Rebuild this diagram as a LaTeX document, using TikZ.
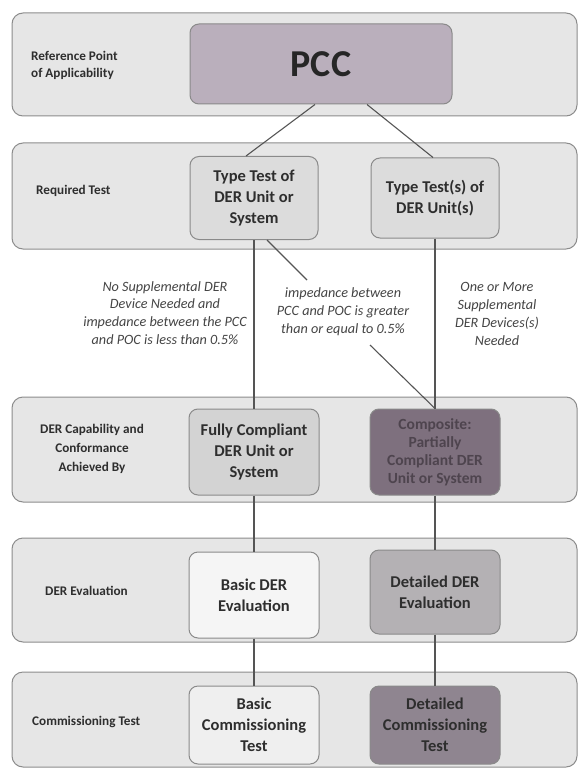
\documentclass[tikz,border=0pt]{standalone}
\usepackage{fontspec}
\setmainfont{Carlito}
\definecolor{bandfill}{HTML}{E6E6E6}
\definecolor{bandline}{HTML}{8C8C8C}
\definecolor{boxline}{HTML}{8A8A8A}
\definecolor{pccfill}{HTML}{BAAFBC}
\definecolor{ttfill}{HTML}{DCDCDC}
\definecolor{fcfill}{HTML}{D3D3D3}
\definecolor{compfill}{HTML}{7E707E}
\definecolor{comptext}{HTML}{4E444E}
\definecolor{befill}{HTML}{F5F5F5}
\definecolor{defill}{HTML}{B4B1B4}
\definecolor{bcfill}{HTML}{EFEFEF}
\definecolor{dcfill}{HTML}{8F8590}
\definecolor{txt}{HTML}{2E2E2E}
\definecolor{condtxt}{HTML}{444444}
\definecolor{lineclr}{HTML}{555555}
\begin{document}
\begin{tikzpicture}[x=1pt,y=-1pt,
  band/.style={draw=bandline, fill=bandfill, rounded corners=11pt, line width=1pt},
  box/.style={draw=boxline, rounded corners=9pt, line width=1pt, align=center,
    font=\bfseries\fontsize{16.5}{21}\selectfont, text=txt, inner sep=2pt},
  lbl/.style={font=\bfseries\fontsize{13.2}{17}\selectfont, text=txt, inner sep=0pt},
  cond/.style={font=\itshape\fontsize{14.2}{17.8}\selectfont, align=center, text=condtxt, inner sep=0pt},
  conn/.style={draw=lineclr, line width=1.1pt}]
\useasboundingbox (0,0) rectangle (582,770);
% bands
\path[band] (12,13) rectangle (577,116);
\path[band] (12,143) rectangle (577,249);
\path[band] (12,397) rectangle (577,502);
\path[band] (12,538) rectangle (577,642);
\path[band] (12,672) rectangle (577,767);
% row labels
\node[lbl, anchor=west, align=left] (l1) at (31,65) {Reference Point\\of Applicability};
\node[lbl, anchor=west] (l2) at (36,191) {Required Test};
\node[lbl, align=center, font=\bfseries\fontsize{13.2}{19}\selectfont] (l3) at (92,449) {DER Capability and\\Conformance\\Achieved By};
\node[lbl, anchor=west] (l4) at (45,591) {DER Evaluation};
\node[lbl, anchor=west] (l5) at (32,722) {Commissioning Test};
% boxes
\node[box, fill=pccfill, minimum width=262pt, minimum height=80pt,
  font=\bfseries\fontsize{38}{40}\selectfont, text=black!85] (pcc) at (321,64) {PCC};
\node[box, fill=ttfill, minimum width=128pt, minimum height=83pt] (tl) at (254,198) {Type Test of\\DER Unit or\\System};
\node[box, fill=ttfill, minimum width=128pt, minimum height=80pt] (tr) at (435,198) {Type Test(s) of\\DER Unit(s)};
\node[box, fill=fcfill, minimum width=130pt, minimum height=86pt] (fc) at (254,452) {Fully Compliant\\DER Unit or\\System};
\node[box, fill=compfill, minimum width=130pt, minimum height=86pt, text=comptext,
  font=\bfseries\fontsize{15.5}{18}\selectfont] (comp) at (435,452)
  {Composite:\\Partially\\Compliant DER\\Unit or System};
\node[box, fill=befill, minimum width=130pt, minimum height=86pt] (be) at (254,595) {Basic DER\\Evaluation};
\node[box, fill=defill, minimum width=130pt, minimum height=84pt] (de) at (435,592) {Detailed DER\\Evaluation};
\node[box, fill=bcfill, minimum width=130pt, minimum height=78pt] (bc) at (254,725) {Basic\\Commissioning\\Test};
\node[box, fill=dcfill, minimum width=130pt, minimum height=78pt] (dc) at (435,725) {Detailed\\Commissioning\\Test};
% condition texts
\node[cond] (c1) at (165,313) {No Supplemental DER\\Device Needed and\\impedance between the PCC\\and POC is less than 0.5\%};
\node[cond] (c2) at (343,312) {impedance between\\PCC and POC is greater\\than or equal to 0.5\%};
\node[cond] (c3) at (497,314) {One or More\\Supplemental\\DER Devices(s)\\Needed};
% connectors
\coordinate (d1) at (307,280);
\coordinate (d2) at (370,345);
\draw[conn] (pcc.south -| 315,0) -- (tl.north -| 246,0);
\draw[conn] (pcc.south -| 367,0) -- (tr.north -| 433,0);
\draw[conn] (tl.south) -- (fc.north);
\draw[conn] (tr.south) -- (comp.north);
\draw[conn] (tl.south -| 267,0) -- (d1);
\draw[conn] (d2) -- (comp.north);
\draw[conn] (fc.south) -- (be.north);
\draw[conn] (comp.south) -- (de.north);
\draw[conn] (be.south) -- (bc.north);
\draw[conn] (de.south) -- (dc.north);
\end{tikzpicture}
\end{document}
